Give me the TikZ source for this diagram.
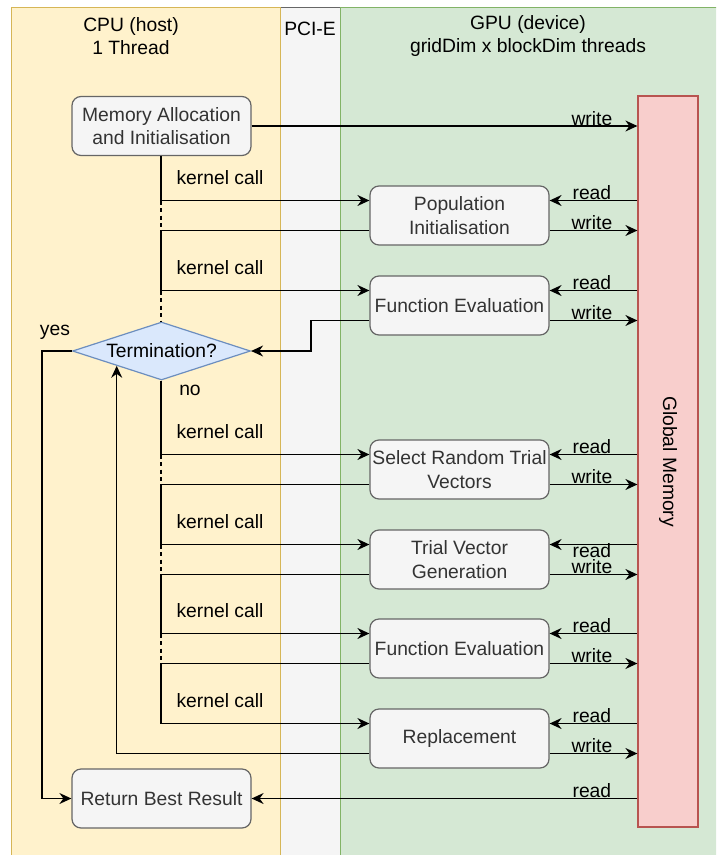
\documentclass[tikz,border=0pt]{standalone}
\usepackage{fontspec}
\setmainfont{Liberation Sans}
\usetikzlibrary{arrows.meta,shapes.geometric,calc}
\definecolor{cpuF}{HTML}{FFF2CC}
\definecolor{cpuD}{HTML}{D6B656}
\definecolor{pciF}{HTML}{F5F5F5}
\definecolor{pciD}{HTML}{666666}
\definecolor{gpuF}{HTML}{D5E8D4}
\definecolor{gpuD}{HTML}{82B366}
\definecolor{boxF}{HTML}{F5F5F5}
\definecolor{boxD}{HTML}{666666}
\definecolor{boxT}{HTML}{333333}
\definecolor{dF}{HTML}{DAE8FC}
\definecolor{dD}{HTML}{6C8EBF}
\definecolor{gmF}{HTML}{F8CECC}
\definecolor{gmD}{HTML}{B85450}
\begin{document}
\begin{tikzpicture}[x=1pt,y=-1pt,
  every node/.style={font=\fontsize{19.3}{23.5}\selectfont},
  lane/.style={line width=1.2pt, anchor=north west, inner sep=0pt, minimum height=880pt},
  box/.style={draw=boxD, fill=boxF, text=boxT, rounded corners=9pt, line width=1.2pt,
    minimum width=179pt, minimum height=59pt, align=center, inner sep=0pt},
  dec/.style={diamond, draw=dD, fill=dF, line width=1.2pt, minimum width=178pt,
    minimum height=58pt, aspect=3, inner sep=0pt},
  gmem/.style={draw=gmD, fill=gmF, line width=1.2pt, minimum width=60pt,
    minimum height=731pt, inner sep=0pt},
  conn/.style={line width=1.5pt},
  arr/.style={conn, -{Stealth[length=12pt,width=11pt,inset=4pt]}},
  dsh/.style={conn, dash pattern=on 4pt off 3.5pt},
  lbl/.style={anchor=base, inner sep=0pt},
]
\useasboundingbox (0,0) rectangle (716,855);
\clip (0,0) rectangle (716,855);
% lanes
\node[lane, draw=pciD, fill=pciF, minimum width=60pt] (pci) at (280,7) {};
\node[lane, draw=cpuD, fill=cpuF, minimum width=269pt] (cpu) at (11,7) {};
\node[lane, draw=gpuD, fill=gpuF, minimum width=390pt] (gpu) at (340,7) {};
\node[align=center] (cpuh) at (131,36) {CPU (host)\\1 Thread};
\node (pcih) at (310,29) {PCI-E};
\node[align=center] (gpuh) at (528,36) {GPU (device)\\gridDim x blockDim threads};
% memory
\node[gmem] (gm) at (668,461.5) {};
\node[rotate=-90] (gmt) at (668,461.5) {Global Memory};
% CPU side
\node[box] (mem) at (161.5,126) {Memory Allocation\\and Initialisation};
\node[dec] (term) at (161.5,351) {Termination?};
\node[box] (ret) at (161.5,798.5) {Return Best Result};
% GPU boxes
\node[box] (pop) at (459.5,215.5) {Population\\Initialisation};
\node[box] (fe1) at (459.5,305.5) {Function Evaluation};
\node[box] (sel) at (459.5,469.5) {Select Random Trial\\Vectors};
\node[box] (tvg) at (459.5,559.5) {Trial Vector\\Generation};
\node[box] (fe2) at (459.5,648.5) {Function Evaluation};
\node[box] (rep) at (459.5,738.5) {Replacement};
\coordinate (kc) at (161,0);
\foreach \b in {pop,fe1,sel,tvg,fe2,rep}{
  \coordinate (\b-ei) at ([yshift=15pt]\b.east);
  \coordinate (\b-eo) at ([yshift=-15pt]\b.east);
  \coordinate (\b-wi) at ([yshift=15pt]\b.west);
  \coordinate (\b-wo) at ([yshift=-15pt]\b.west);
  \draw[arr] (\b-ei -| gm.west) -- (\b-ei);
  \draw[arr] (\b-eo) -- (\b-eo -| gm.west);
}
\foreach \b in {pop,sel,tvg,fe2}{
  \draw[dsh] (\b-wi -| kc) -- (\b-wo -| kc);
}
% read / write labels
\foreach \b in {pop,fe1,sel,fe2,rep}{
  \node[lbl] at ($(\b-ei -| gm.west)+(-45.5,-1.5)$) {read};
}
\node[lbl] at ($(tvg-ei -| gm.west)+(-45.5,13)$) {read};
\foreach \b in {pop,fe1,sel,tvg,fe2,rep}{
  \node[lbl] at ($(\b-eo -| gm.west)+(-45.5,-1)$) {write};
}
% memory allocation write
\draw[arr] (mem.east) -- (mem.east -| gm.west);
\node[lbl] at ($(mem.east -| gm.west)+(-45.5,-1)$) {write};
% kernel calls
\draw[arr] (mem.south -| kc) |- (pop-wi);
\node[lbl] at ($(pop-wi -| kc)+(59,-16)$) {kernel call};
\draw[arr] (pop-wo) -- (pop-wo -| kc) |- (fe1-wi);
\node[lbl] at ($(fe1-wi -| kc)+(59,-16)$) {kernel call};
\draw[dsh] (fe1-wi -| kc) -- (term.north -| kc);
\draw[arr] (fe1-wo) -| ([xshift=60pt]term.east) -- (term.east);
\draw[arr] (term.south -| kc) |- (sel-wi);
\node[lbl] at ($(sel-wi -| kc)+(59,-16)$) {kernel call};
\node[lbl] (no) at (190,395) {no};
\draw[arr] (sel-wo) -- (sel-wo -| kc) |- (tvg-wi);
\node[lbl] at ($(tvg-wi -| kc)+(59,-16)$) {kernel call};
\draw[arr] (tvg-wo) -- (tvg-wo -| kc) |- (fe2-wi);
\node[lbl] at ($(fe2-wi -| kc)+(59,-16)$) {kernel call};
\draw[arr] (fe2-wo) -- (fe2-wo -| kc) |- (rep-wi);
\node[lbl] at ($(rep-wi -| kc)+(59,-16)$) {kernel call};
% loop back to termination
\coordinate (tsw) at ($(term.south)!0.5!(term.west)$);
\draw[arr] (rep-wo) -| (tsw);
% yes branch
\draw[arr] (term.west) -- ++(-30,0) |- (ret.west);
\node[lbl] (yes) at (55,335) {yes};
% return read
\draw[arr] (ret.east -| gm.west) -- (ret.east);
\node[lbl] at ($(ret.east -| gm.west)+(-45.5,-1.5)$) {read};
\end{tikzpicture}
\end{document}
